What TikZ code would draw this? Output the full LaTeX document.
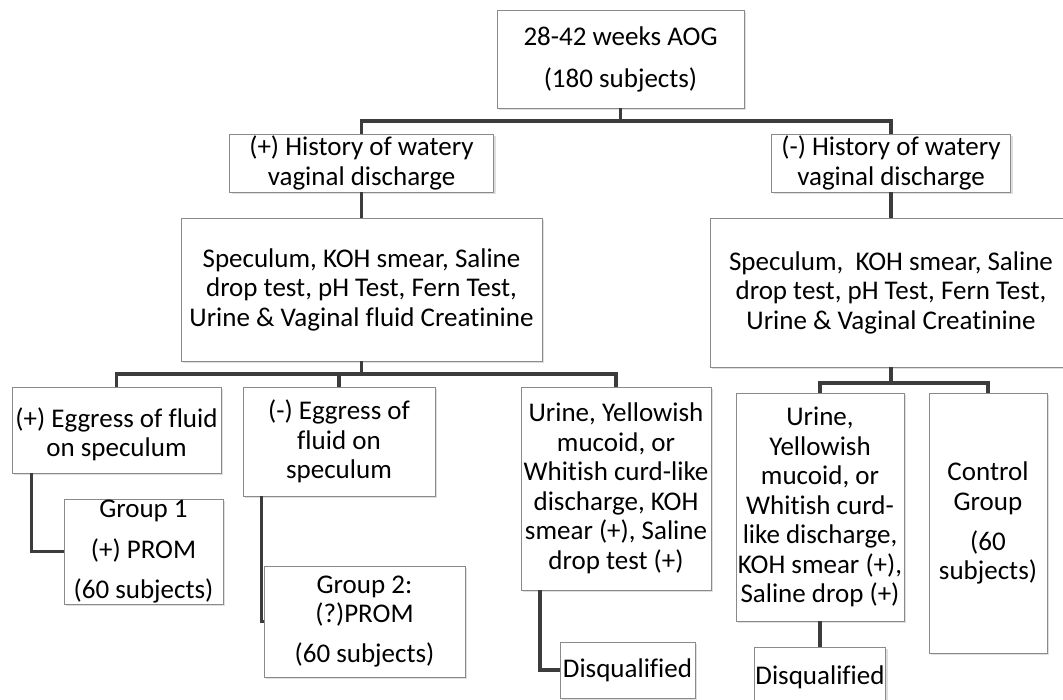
\documentclass[tikz,border=0pt]{standalone}
\usepackage{fontspec}
\setmainfont{Carlito}[Ligatures={NoCommon}]
\usetikzlibrary{shadows}
\definecolor{boxline}{HTML}{8A8A8A}
\definecolor{conn}{HTML}{3C3C3C}
\tikzset{
  box/.style={draw=boxline, line width=0.9pt, fill=white, inner sep=0pt, align=center,
    font=\fontsize{27}{29.5}\selectfont,
    drop shadow={opacity=0.25, shadow xshift=2pt, shadow yshift=-2pt}},
  link/.style={draw=conn, line width=3.6pt}
}
\begin{document}
\begin{tikzpicture}[x=1pt,y=1pt]
\useasboundingbox (0,0) rectangle (1063,700);
\clip (0,0) rectangle (1063,700);
\fill[white] (0,0) rectangle (1063,700);
% bus junctions
\coordinate (b1) at (620.5,579);
\coordinate (b2) at (361.5,326);
\coordinate (b3) at (891,317);
% nodes
\node[box, minimum width=247pt, minimum height=98pt] (top) at (620.5,641)
  {28-42 weeks AOG\\[12.5pt](180 subjects)};
\node[box, minimum width=264pt, minimum height=58pt] (lh) at (361.5,537)
  {(+) History of watery\\vaginal discharge};
\node[box, minimum width=239pt, minimum height=58pt] (rh) at (891,537)
  {(-) History of watery\\vaginal discharge};
\node[box, minimum width=361pt, minimum height=143pt] (lt) at (361.5,410.5)
  {Speculum, KOH smear, Saline\\drop test, pH Test, Fern Test,\\Urine \& Vaginal fluid Creatinine};
\node[box, minimum width=362pt, minimum height=149pt] (rt) at (891,407.5)
  {Speculum,\ \ KOH smear, Saline\\drop test, pH Test, Fern Test,\\Urine \& Vaginal Creatinine};
\node[box, minimum width=209pt, minimum height=86pt] (pe) at (116.5,270)
  {\rule{0pt}{28pt}(+) Eggress of fluid\\on speculum};
\node[box, minimum width=192pt, minimum height=109pt] (ne) at (339,258.5)
  {(-) Eggress of\\fluid on\\speculum};
\node[box, minimum width=190pt, minimum height=203pt] (u1) at (616,211.5)
  {Urine, Yellowish\\mucoid, or\\Whitish curd-like\\discharge, KOH\\smear (+), Saline\\drop test (+)};
\node[box, minimum width=168pt, minimum height=228pt] (u2) at (820,193)
  {Urine,\\Yellowish\\mucoid, or\\Whitish curd-\\like discharge,\\KOH smear (+),\\Saline drop (+)};
\node[box, minimum width=118pt, minimum height=260pt] (ctrl) at (988,177)
  {Control\\Group\\[10.5pt](60\\subjects)};
\node[box, minimum width=159pt, minimum height=105pt] (g1) at (143.5,148.5)
  {Group 1\\[11.5pt](+) PROM\\[11pt](60 subjects)};
\node[box, minimum width=201pt, minimum height=111pt] (g2) at (364.5,78.5)
  {Group 2:\\(?)PROM\\[10.5pt](60 subjects)};
\node[box, minimum width=135pt, minimum height=56pt] (d1) at (627.5,30)
  {Disqualified};
\node[box, minimum width=131pt, minimum height=60pt] (d2) at (820,23)
  {Disqualified};
% connectors
\draw[link] (top.south) -- (b1);
\draw[link] (lh.north) |- (b1) -| (rh.north);
\draw[link] (lh.south) -- (lt.north);
\draw[link] (rh.south) -- (rt.north);
\draw[link] (lt.south) -- (b2);
\draw[link] (pe.north) |- (b2) -| (u1.north);
\draw[link] (ne.north) -- (ne.north |- b2);
\draw[link] (rt.south) -- (b3);
\draw[link] (u2.north) |- (b3) -| (ctrl.north);
\draw[link] ([xshift=20pt]pe.south west) |- (g1.west);
\draw[link] ([xshift=19pt]ne.south west) |- (g2.west);
\draw[link] ([xshift=19.5pt]u1.south west) |- (d1.west);
\draw[link] (u2.south) -- (d2.north);
\end{tikzpicture}
\end{document}
